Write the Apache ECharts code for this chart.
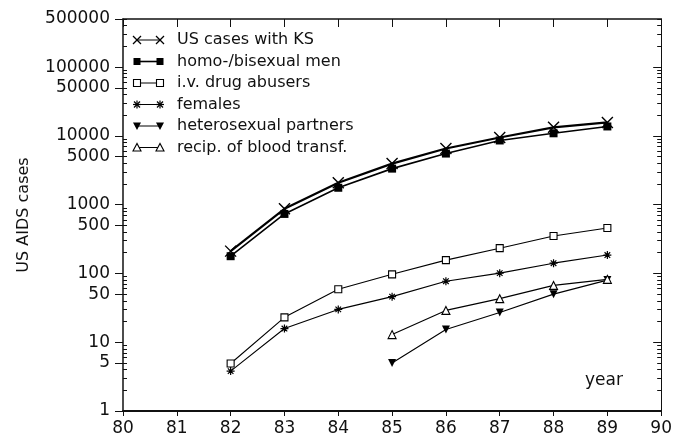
<!DOCTYPE html>
<html><head><meta charset="utf-8">
<script src="https://cdn.jsdelivr.net/npm/echarts@6/dist/echarts.min.js"></script>
<style>html,body{margin:0;padding:0;background:#fff}#c{width:675px;height:438px}</style>
</head><body><div id="c"></div>
<script>
// ---- data ----
const years = [82, 83, 84, 85, 86, 87, 88, 89];
const lateYears = [85, 86, 87, 88, 89];
const ksCases = [211, 869, 2080, 3950, 6550, 9480, 13300, 15700];
const homoBisexualMen = [178, 733, 1760, 3340, 5530, 8570, 10900, 13700];
const ivDrugAbusers = [4.9, 23, 59, 97, 156, 233, 350, 458];
const females = [3.8, 15.8, 30, 46, 77, 101, 141, 185];
const heterosexualPartners = [5.0, 15.3, 27, 50, 80];
const bloodTransfusion = [12.9, 29, 43, 67, 82];
const xTickLabels = [80, 81, 82, 83, 84, 85, 86, 87, 88, 89, 90];
const yTickLabels = [1, 5, 10, 50, 100, 500, 1000, 5000, 10000, 50000, 100000, 500000];
const legendNames = ['US cases with KS', 'homo-/bisexual men', 'i.v. drug abusers', 'females', 'heterosexual partners', 'recip. of blood transf.'];

const chart = echarts.init(document.getElementById('c'), null, { renderer: 'canvas' });
const FONT = 'DejaVu Sans';
const INK = '#111';
const L = Math.log10;
const yMin = yTickLabels[0], yMax = yTickLabels[yTickLabels.length - 1];
const logMax = L(yMax);
const majorPos = yTickLabels.map(v => L(v));
const decadePos = yTickLabels.filter(v => Number.isInteger(L(v))).map(v => L(v));
const minorPos = [];
for (let n = 0; n <= 5; n++) for (let k = 2; k <= 9; k++) { const v = k * Math.pow(10, n); if (v <= yMax) minorPos.push(L(v)); }

const CROSS = 'path://M0,0L10,10M10,0L0,10';
const STAR = 'path://M5,0L5,10M0,5L10,5M1.5,1.5L8.5,8.5M8.5,1.5L1.5,8.5';
const pairs = (xs, ys) => xs.map((x, i) => [x, ys[i]]);

function tickAxis(pos, ticks, inside, len, width, showLine, labels) {
  return {
    type: 'value', position: pos, min: 0, max: logMax, gridIndex: 0,
    axisLine: { show: showLine, onZero: false, lineStyle: { color: INK, width: width } },
    axisTick: { show: true, customValues: ticks, inside: inside, length: len, lineStyle: { color: INK, width: 1 } },
    axisLabel: labels ? {
      show: true, customValues: majorPos, margin: 13, fontFamily: FONT, fontSize: 17, color: INK,
      formatter: v => { const i = majorPos.findIndex(p => Math.abs(p - v) < 1e-6); return i >= 0 ? String(yTickLabels[i]) : ''; }
    } : { show: false },
    splitLine: { show: false }, silent: true
  };
}

const baseSeries = (name, data, symbol, size, itemStyle, lw, extra) => Object.assign({
  name, type: 'line', xAxisIndex: 0, yAxisIndex: 0, data,
  symbol, symbolSize: size, showSymbol: true, showAllSymbol: true,
  lineStyle: { color: '#000', width: lw }, itemStyle, emphasis: { disabled: true }, z: 3
}, extra || {});

// legend drawn as graphic: line with marker at both ends
const LX0 = 137, LX1 = 160, LTX = 177, LY0 = 40, LDY = 21.5;
function marker(kind, x, y) {
  const s = { stroke: '#000', lineWidth: 1.2, fill: null };
  switch (kind) {
    case 'cross': return [
      { type: 'line', shape: { x1: x - 4, y1: y - 4, x2: x + 4, y2: y + 4 }, style: s },
      { type: 'line', shape: { x1: x + 4, y1: y - 4, x2: x - 4, y2: y + 4 }, style: s }];
    case 'fsq': return [{ type: 'rect', shape: { x: x - 3.5, y: y - 3.5, width: 7, height: 7 }, style: { fill: '#000' } }];
    case 'esq': return [{ type: 'rect', shape: { x: x - 3.5, y: y - 3.5, width: 7, height: 7 }, style: { fill: '#fff', stroke: '#000', lineWidth: 1.1 } }];
    case 'star': return [
      { type: 'line', shape: { x1: x, y1: y - 4, x2: x, y2: y + 4 }, style: s },
      { type: 'line', shape: { x1: x - 4, y1: y, x2: x + 4, y2: y }, style: s },
      { type: 'line', shape: { x1: x - 3, y1: y - 3, x2: x + 3, y2: y + 3 }, style: s },
      { type: 'line', shape: { x1: x + 3, y1: y - 3, x2: x - 3, y2: y + 3 }, style: s }];
    case 'dtri': return [{ type: 'polygon', shape: { points: [[x - 4, y - 3.5], [x + 4, y - 3.5], [x, y + 4]] }, style: { fill: '#000' } }];
    case 'utri': return [{ type: 'polygon', shape: { points: [[x - 4, y + 3.5], [x + 4, y + 3.5], [x, y - 4]] }, style: { fill: '#fff', stroke: '#000', lineWidth: 1.1 } }];
  }
}
const legendKinds = ['cross', 'fsq', 'esq', 'star', 'dtri', 'utri'];
const legendGraphics = [];
legendNames.forEach((name, i) => {
  const y = LY0 + i * LDY;
  legendGraphics.push({ type: 'line', shape: { x1: LX0, y1: y, x2: LX1, y2: y }, style: { stroke: '#000', lineWidth: i === 1 ? 1.6 : 1 } });
  legendGraphics.push(...marker(legendKinds[i], LX0, y), ...marker(legendKinds[i], LX1, y));
  legendGraphics.push({ type: 'text', x: LTX, y: y, style: { text: name, font: '16px "' + FONT + '"', fill: INK, textVerticalAlign: 'middle', textAlign: 'left' } });
});
legendGraphics.push({ type: 'text', x: 585, y: 381, style: { text: 'year', font: '17px "' + FONT + '"', fill: INK, textVerticalAlign: 'middle', textAlign: 'left' } });
legendGraphics.push({ type: 'text', x: 24, y: 215, rotation: Math.PI / 2, style: { text: 'US AIDS cases', font: '16px "' + FONT + '"', fill: INK, textVerticalAlign: 'middle', textAlign: 'center' } });

const option = {
  backgroundColor: '#fff',
  animation: false,
  grid: { left: 123, right: 12, top: 19, bottom: 27, containLabel: false },
  xAxis: [
    { type: 'value', position: 'bottom', min: xTickLabels[0], max: xTickLabels[xTickLabels.length - 1], interval: 1,
      axisLine: { onZero: false, lineStyle: { color: INK, width: 1.8 } },
      axisTick: { inside: false, length: 5, lineStyle: { color: INK, width: 1 } },
      axisLabel: { margin: 9, fontFamily: FONT, fontSize: 17, color: INK, formatter: v => String(v) },
      splitLine: { show: false } },
    { type: 'value', position: 'top', min: xTickLabels[0], max: xTickLabels[xTickLabels.length - 1], interval: 1,
      axisLine: { onZero: false, lineStyle: { color: INK, width: 1.5 } },
      axisTick: { inside: true, length: 8, lineStyle: { color: INK, width: 1 } },
      axisLabel: { show: false }, splitLine: { show: false } }
  ],
  yAxis: [
    { type: 'log', logBase: 10, min: yMin, max: yMax, position: 'left',
      axisLine: { show: false, onZero: false }, axisTick: { show: false }, axisLabel: { show: false }, splitLine: { show: false } },
    tickAxis('left', majorPos, false, 8, 1.5, true, true),
    tickAxis('left', minorPos, true, 4, 1, false, false),
    tickAxis('right', decadePos, true, 8, 1, true, false),
    tickAxis('right', minorPos, true, 4, 1, false, false)
  ],
  graphic: legendGraphics,
  series: [
    baseSeries(legendNames[0], pairs(years, ksCases), CROSS, 11, { color: '#000', borderColor: '#000', borderWidth: 1.4 }, 2.2),
    baseSeries(legendNames[1], pairs(years, homoBisexualMen), 'rect', 8, { color: '#000' }, 1.6),
    baseSeries(legendNames[2], pairs(years, ivDrugAbusers), 'rect', 7, { color: '#fff', borderColor: '#000', borderWidth: 1.1 }, 1.1),
    baseSeries(legendNames[3], pairs(years, females), STAR, 8, { color: '#000', borderColor: '#000', borderWidth: 1.2 }, 1.1),
    baseSeries(legendNames[4], pairs(lateYears, heterosexualPartners), 'triangle', 8, { color: '#000' }, 1.1, { symbolRotate: 180 }),
    baseSeries(legendNames[5], pairs(lateYears, bloodTransfusion), 'triangle', 8, { color: '#fff', borderColor: '#000', borderWidth: 1.1 }, 1.1)
  ]
};
chart.setOption(option);
</script></body></html>
